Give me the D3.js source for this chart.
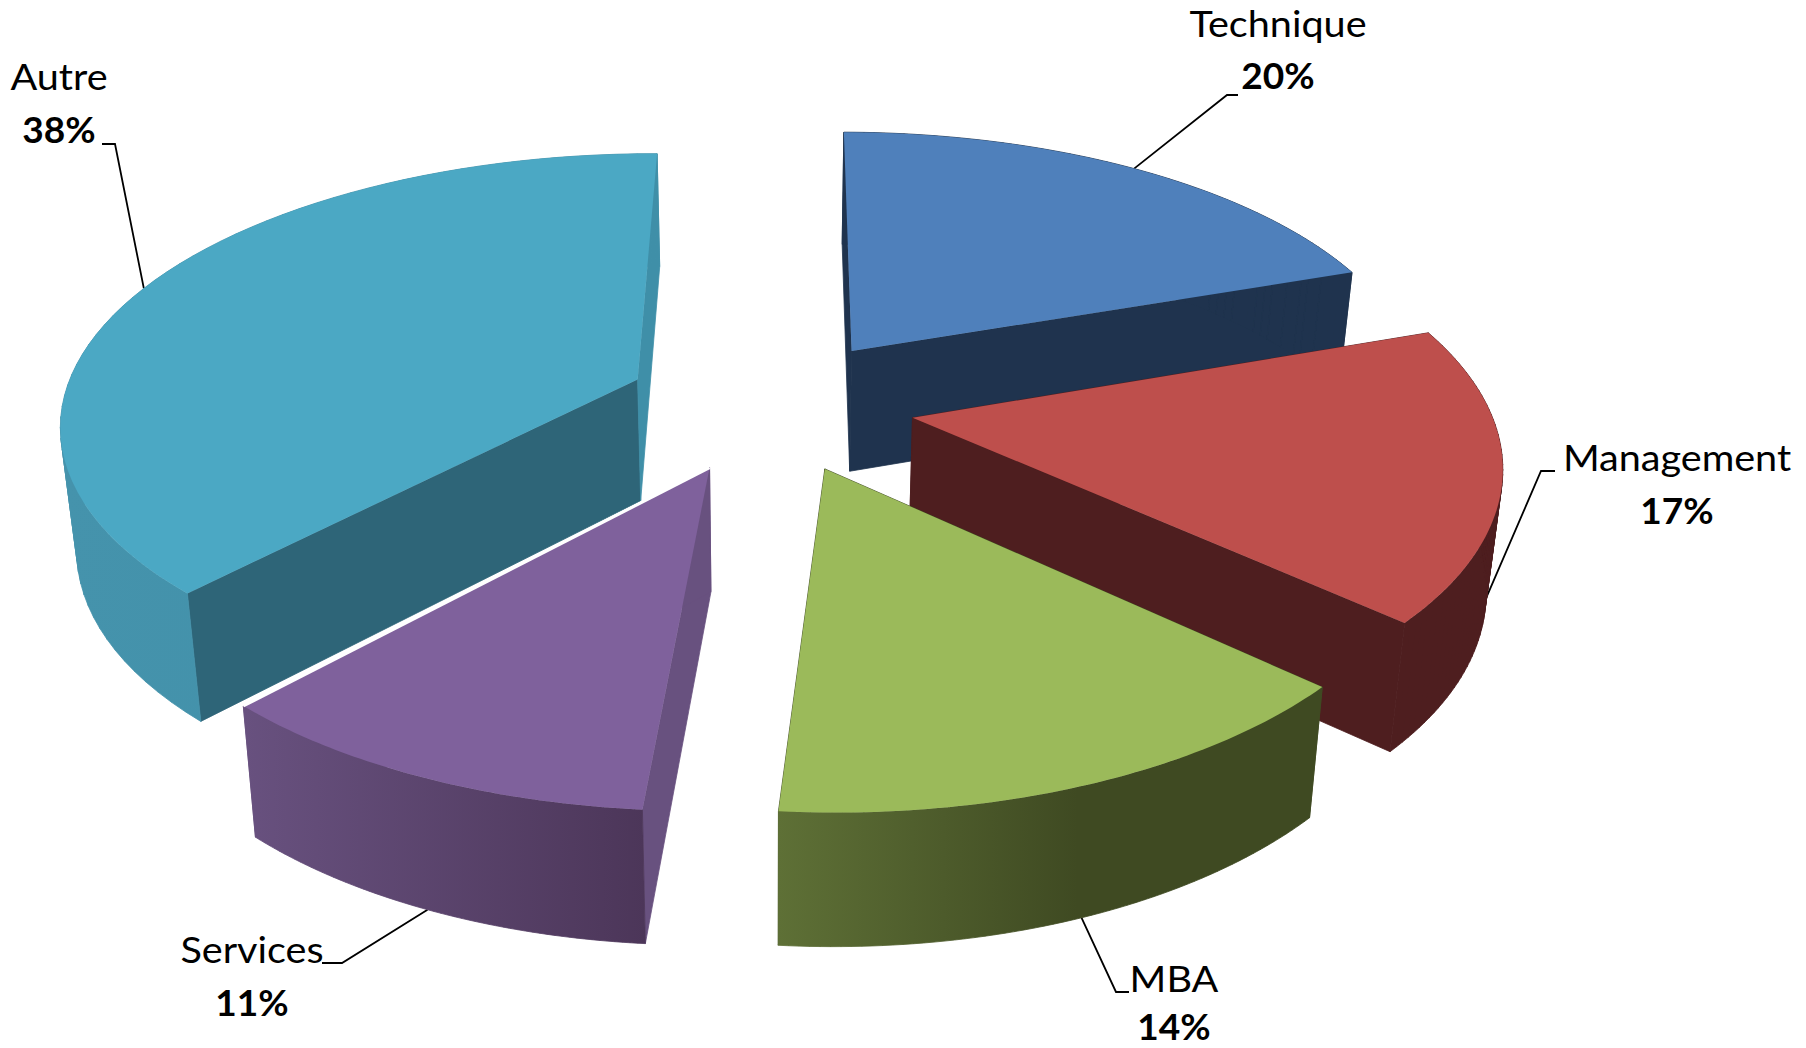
<!DOCTYPE html>
<html>
<head>
<meta charset="utf-8">
<script src="https://cdn.jsdelivr.net/npm/d3@7"></script>
<style>
  html, body { margin: 0; background: #fff; }
  text { font-family: Lato, "Open Sans", sans-serif; fill: #000; }
</style>
</head>
<body>
<div id="container"></div>
<script>
/* DATA */
const categories = ["Technique", "Management", "MBA", "Services", "Autre"];
// the labels show them rounded
const shares = [19.6, 17.1, 14.49, 10.7, 38.11];

/* COLOURS */
const topColors = ["#4f80bb", "#be4f4c", "#9bba5a", "#7f619c", "#4ba8c4"];
const startWallColors = ["#1f334e", "#4e1e1f", "#3f4a22", "#68517f", "#2e6578"];
const endWallColors = ["#1f334e", "#4e1e1f", "#3f4a22", "#68517f", "#3f8fa8"];
const outerLeftColors = ["#1f334e", "#4e1e1f", "#5e7036", "#68517f", "#4593ac"];
const outerRightColors = ["#1f334e", "#4e1e1f", "#3f4a22", "#4c3659", "#3f8fa8"];

/* LAYOUT */
const width = 1806, height = 1048;
const view = { cx: 770, cy: 404, ax: 1.01, ay: 0.47, perspX: 0.00026, persp: 0.000272, shrink: 0.977, depth: 122, depthPersp: 0.000128 };
const radius = 570, explode = 143;
const firstAngle = 0.3 * Math.PI / 180;
// back to front
const drawOrder = [0, 4, 1, 3, 2];
// label centre, baselines, elbow of the leader; low = leader stops on the lower rim
const labelBoxes = [
  { x: 1278, y1: 37, y2: 89, elbow: [[1238, 95], [1227, 95]], low: false },
  { x: 1677, y1: 471, y2: 524, elbow: [[1555, 471], [1541, 471]], low: true },
  { x: 1174, y1: 992, y2: 1040, elbow: [[1129, 992], [1116, 992]], low: true },
  { x: 252, y1: 963, y2: 1016, elbow: [[322, 963], [342, 963]], low: true },
  { x: 59, y1: 90, y2: 143, elbow: [[102, 144], [115, 144]], low: false }
];

/* PROJECTION: flat pie coordinates to the tilted view */
function project(px, py, lower) {
  let sx = view.ax * px / (1 + view.perspX * py);
  let sy = view.cy - view.ay * py / (1 + view.persp * py);
  if (lower) {
    sx *= view.shrink;
    sy += view.depth / (1 + view.depthPersp * py);
  }
  return [view.cx + sx, sy];
}

const pie = d3.pie().sort(null)
  .startAngle(firstAngle)
  .endAngle(firstAngle + 2 * Math.PI);
const slices = pie(shares).map((d, i) => {
  const mid = (d.startAngle + d.endAngle) / 2;
  const ox = explode * Math.sin(mid), oy = explode * Math.cos(mid);
  const point = a => [ox + radius * Math.sin(a), oy + radius * Math.cos(a)];
  const steps = d3.range(0, 61).map(s => d.startAngle + (d.endAngle - d.startAngle) * s / 60);
  return { i, mid, ox, oy, point, steps, start: d.startAngle, end: d.endAngle };
});

const line = d3.line();
const closed = pts => line(pts) + "Z";

// rim as one quad per step, all wound the same way, so the silhouette is filled
function rimPath(up, down) {
  return d3.range(0, up.length - 1).map(k => {
    const quad = [up[k], up[k + 1], down[k + 1], down[k]];
    return closed(d3.polygonArea(quad) < 0 ? quad.reverse() : quad);
  }).join("");
}

/* SVG */
const svg = d3.select("#container").append("svg")
  .attr("width", width)
  .attr("height", height)
  .style("display", "block");
const defs = svg.append("defs");

// leaders go underneath the slices
svg.append("g").selectAll("path")
  .data(slices)
  .join("path")
  .attr("d", s => {
    const p = s.point(s.mid);
    return line([...labelBoxes[s.i].elbow, project(p[0], p[1], labelBoxes[s.i].low)]);
  })
  .attr("fill", "none")
  .attr("stroke", "#000")
  .attr("stroke-width", 1.8);

drawOrder.forEach(idx => {
  const s = slices[idx];
  const g = svg.append("g");
  const up = s.steps.map(a => { const p = s.point(a); return project(p[0], p[1], false); });
  const down = s.steps.map(a => { const p = s.point(a); return project(p[0], p[1], true); });
  const apexUp = project(s.ox, s.oy, false), apexDown = project(s.ox, s.oy, true);

  // outer rim, flat when both ends share a colour
  let rimPaint = outerLeftColors[idx];
  if (outerLeftColors[idx] !== outerRightColors[idx]) {
    const xs = d3.extent(up.concat(down), d => d[0]);
    const grad = defs.append("linearGradient")
      .attr("id", "rim" + idx)
      .attr("gradientUnits", "userSpaceOnUse")
      .attr("x1", xs[0]).attr("x2", xs[1]).attr("y1", 0).attr("y2", 0);
    grad.append("stop").attr("offset", 0).attr("stop-color", outerLeftColors[idx]);
    grad.append("stop").attr("offset", idx === 2 ? 0.55 : 1).attr("stop-color", outerRightColors[idx]);
    rimPaint = `url(#rim${idx})`;
  }

  // radial walls, stroked in their own colour to hide the seams
  g.append("path")
    .attr("d", closed([apexUp, up[0], down[0], apexDown]))
    .attr("fill", startWallColors[idx])
    .attr("stroke", startWallColors[idx])
    .attr("stroke-width", 0.8);
  g.append("path")
    .attr("d", closed([apexUp, up[60], down[60], apexDown]))
    .attr("fill", endWallColors[idx])
    .attr("stroke", endWallColors[idx])
    .attr("stroke-width", 0.8);
  g.append("path")
    .attr("d", rimPath(up, down))
    .attr("fill", rimPaint)
    .attr("stroke", rimPaint)
    .attr("stroke-width", 0.8);
  g.append("path")
    .attr("d", closed([apexUp, ...up]))
    .attr("fill", topColors[idx]);

  // Services has a thin white gap against the Autre wall behind it
  if (categories[idx] === "Services") {
    g.append("path")
      .attr("d", line([apexUp, up[60]]))
      .attr("stroke", "#fff")
      .attr("stroke-width", 3)
      .attr("fill", "none");
  }
});

/* LABELS */
const labels = svg.append("g").selectAll("g")
  .data(slices)
  .join("g")
  .attr("transform", s => `translate(${labelBoxes[s.i].x},0)`);
labels.append("text")
  .attr("y", s => labelBoxes[s.i].y1)
  .attr("text-anchor", "middle")
  .attr("font-size", 36)
  .attr("transform", "scale(1.1,1)")
  .text(s => categories[s.i]);
labels.append("text")
  .attr("y", s => labelBoxes[s.i].y2)
  .attr("text-anchor", "middle")
  .attr("font-size", 36)
  .attr("font-weight", 700)
  .attr("transform", "scale(1.03,1)")
  .text(s => Math.round(shares[s.i]) + "%");
</script>
</body>
</html>
